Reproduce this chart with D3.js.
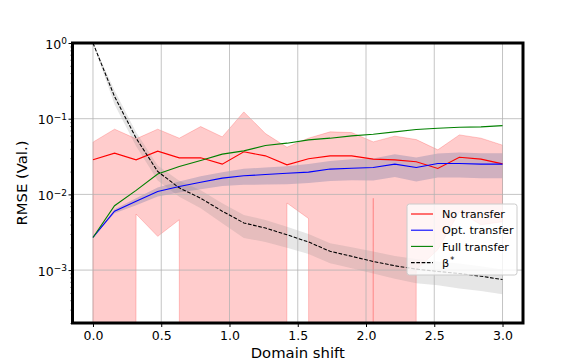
<!DOCTYPE html>
<html><head><meta charset="utf-8">
<script src="https://cdn.jsdelivr.net/npm/d3@7"></script>
<style>body{margin:0;background:#fff}svg{display:block;font-family:"DejaVu Sans",sans-serif}</style>
</head><body><svg id="c" width="581" height="363"></svg>
<script>
// ---- data ----
const shifts = [0, 0.158, 0.316, 0.474, 0.632, 0.789, 0.947, 1.105, 1.263, 1.421, 1.579, 1.737, 1.895, 2.053, 2.211, 2.368, 2.526, 2.684, 2.842, 3.0];
const noTransfer = [0.0286, 0.0351, 0.0286, 0.0373, 0.0304, 0.0304, 0.0251, 0.0365, 0.0323, 0.0246, 0.0295, 0.0323, 0.0323, 0.0292, 0.0286, 0.0270, 0.0220, 0.0310, 0.0292, 0.0253];
const noTransferHi = [0.049, 0.0727, 0.0542, 0.0727, 0.0553, 0.0787, 0.0575, 0.123, 0.0636, 0.042, 0.0553, 0.067, 0.0656, 0.0494, 0.0588, 0.053, 0.0388, 0.0611, 0.0553, 0.0447];
const noTransferLo = [0, 0, 0.0055, 0.00279, 0.00462, 0, 0, 0, 0, 0.0077, 0.0048, 0, 0, 0.0089, 0, 0.00101, 0.00186, 0.0059, 0.00397, 0.00435];
const optTransfer = [0.0027, 0.0060, 0.0081, 0.0109, 0.0127, 0.0145, 0.0164, 0.0176, 0.0183, 0.0190, 0.0197, 0.0216, 0.0222, 0.0227, 0.0251, 0.0227, 0.0256, 0.0256, 0.0251, 0.0251];
const optTransferHi = [0.0027, 0.00638, 0.00887, 0.01231, 0.01478, 0.0174, 0.01968, 0.02177, 0.02264, 0.0235, 0.02512, 0.02754, 0.02919, 0.02985, 0.03401, 0.03076, 0.03469, 0.03576, 0.03506, 0.03506];
const optTransferLo = [0.0027, 0.00565, 0.00717, 0.00936, 0.01058, 0.01172, 0.01286, 0.01338, 0.01351, 0.0136, 0.0141, 0.015, 0.01542, 0.0153, 0.01691, 0.01484, 0.01673, 0.01673, 0.0164, 0.0164];
const fullTransfer = [0.0027, 0.00708, 0.0113, 0.0186, 0.0233, 0.028, 0.034, 0.0376, 0.0442, 0.0475, 0.0525, 0.0553, 0.0593, 0.0624, 0.067, 0.0719, 0.0749, 0.077, 0.078, 0.081];
const betaStar = [1.0, 0.196, 0.0553, 0.0201, 0.0122, 0.0089, 0.0060, 0.0042, 0.00359, 0.00293, 0.00235, 0.00177, 0.00152, 0.0013, 0.00114, 0.00103, 0.00096, 0.0009, 0.00083, 0.00075];
const betaStarHi = [1.0, 0.235, 0.0664, 0.0241, 0.01509, 0.01135, 0.00765, 0.00536, 0.00458, 0.00374, 0.003, 0.00226, 0.002, 0.00176, 0.00154, 0.0014, 0.0013, 0.00122, 0.00112, 0.00102];
const betaStarLo = [1.0, 0.1537, 0.0434, 0.01529, 0.00928, 0.00657, 0.00417, 0.00266, 0.00235, 0.00197, 0.00163, 0.00123, 0.00106, 0.0009, 0.00077, 0.00067, 0.00063, 0.00057, 0.00053, 0.00048];
const xTicks = [0, 0.5, 1.0, 1.5, 2.0, 2.5, 3.0];
const yTicks = [1, 0.1, 0.01, 0.001];
const yTickExp = ["0", "\u22121", "\u22122", "\u22123"];
const legendLabels = ["No transfer", "Opt. transfer", "Full transfer", "\u03b2"];

// ---- layout ----
const L = 72.5, R = 523, T = 43, B = 323;
const svg = d3.select("#c");
const x = d3.scaleLinear().domain([-0.15, 3.15]).range([L, R]);
const y = d3.scaleLog().domain([2.0e-4, 1]).range([B, T]);
const yv = v => v > 0 ? y(v) : y(1e-300);

svg.append("defs").append("clipPath").attr("id", "clip")
  .append("rect").attr("x", L).attr("y", T).attr("width", R - L).attr("height", B - T);
const plot = svg.append("g").attr("clip-path", "url(#clip)");

const band = (lo, hi) => d3.area().x((d, i) => x(shifts[i])).y0((d, i) => yv(lo[i])).y1((d, i) => yv(hi[i]))(shifts);
plot.append("path").attr("d", band(noTransferLo, noTransferHi))
  .attr("fill", "red").attr("fill-opacity", 0.2).attr("stroke", "red").attr("stroke-opacity", 0.2).attr("stroke-width", 1);
plot.append("path").attr("d", band(optTransferLo, optTransferHi))
  .attr("fill", "#445a98").attr("fill-opacity", 0.25);
plot.append("path").attr("d", band(betaStarLo, betaStarHi))
  .attr("fill", "#808080").attr("fill-opacity", 0.2);

// grid
const grid = plot.append("g").attr("stroke", "#b0b0b0").attr("stroke-opacity", 0.75).attr("stroke-width", 1);
xTicks.forEach(t => grid.append("line").attr("x1", x(t)).attr("x2", x(t)).attr("y1", T).attr("y2", B));
yTicks.forEach(t => grid.append("line").attr("x1", L).attr("x2", R).attr("y1", y(t)).attr("y2", y(t)));

const line = d => d3.line().x((v, i) => x(shifts[i])).y(v => y(v))(d);
plot.append("path").attr("d", line(noTransfer)).attr("fill", "none").attr("stroke", "red").attr("stroke-width", 1.1);
plot.append("path").attr("d", line(optTransfer)).attr("fill", "none").attr("stroke", "blue").attr("stroke-width", 1.1);
plot.append("path").attr("d", line(fullTransfer)).attr("fill", "none").attr("stroke", "green").attr("stroke-width", 1.1);
plot.append("path").attr("d", line(betaStar)).attr("fill", "none").attr("stroke", "black").attr("stroke-width", 1.1).attr("stroke-dasharray", "3.7,1.6");

// axes
const xAxis = d3.axisBottom(x).tickValues(xTicks).tickFormat(d3.format(".1f")).tickSize(4).tickPadding(4);
const gx = svg.append("g").attr("transform", `translate(0,${B})`).call(xAxis);
gx.select(".domain").remove();
gx.selectAll("text").attr("font-size", 12.5).attr("font-family", "DejaVu Sans").attr("fill", "#000");
gx.selectAll("line").attr("stroke", "#000");

const minorTicks = [];
[0.0001, 0.001, 0.01, 0.1].forEach(d => { for (let k = 2; k <= 9; k++) { const v = d * k; if (v >= 2e-4 && v <= 1) minorTicks.push(v); } });
const yAxis = d3.axisLeft(y).tickValues(yTicks).tickFormat("").tickSize(4);
const gy = svg.append("g").attr("transform", `translate(${L},0)`).call(yAxis);
gy.select(".domain").remove();
gy.selectAll("line").attr("stroke", "#000");
const gym = svg.append("g").attr("transform", `translate(${L},0)`).call(d3.axisLeft(y).tickValues(minorTicks).tickFormat("").tickSize(2));
gym.select(".domain").remove();
gym.selectAll("line").attr("stroke", "#000").attr("stroke-width", 0.7);

yTicks.forEach((t, i) => {
  const tx = svg.append("text").attr("x", 67).attr("y", y(t)).attr("dy", "0.45em")
    .attr("text-anchor", "end").attr("font-size", 12.5).attr("fill", "#000");
  tx.append("tspan").text("10");
  tx.append("tspan").attr("dy", "-0.5em").attr("font-size", 9).text(yTickExp[i]);
});

// spines
svg.append("rect").attr("x", L).attr("y", T).attr("width", R - L).attr("height", B - T)
  .attr("fill", "none").attr("stroke", "#000").attr("stroke-width", 3);

// labels
svg.append("text").attr("x", (L + R) / 2).attr("y", 358).attr("text-anchor", "middle")
  .attr("font-size", 14.8).attr("fill", "#000").text("Domain shift");
svg.append("text").attr("transform", `translate(27,${(T + B) / 2}) rotate(-90)`).attr("text-anchor", "middle")
  .attr("font-size", 14.8).attr("fill", "#000").text("RMSE (Val.)");

// legend
const lg = svg.append("g");
lg.append("rect").attr("x", 407).attr("y", 204).attr("width", 110).attr("height", 71).attr("rx", 2.5)
  .attr("fill", "#fff").attr("fill-opacity", 0.8).attr("stroke", "#cccccc").attr("stroke-width", 1);
const lcol = ["red", "blue", "green", "black"];
legendLabels.forEach((lab, i) => {
  const yy = 214 + i * 16.2;
  lg.append("line").attr("x1", 411).attr("x2", 433).attr("y1", yy).attr("y2", yy)
    .attr("stroke", lcol[i]).attr("stroke-width", 1.1).attr("stroke-dasharray", i === 3 ? "3.7,1.6" : null);
  const t = lg.append("text").attr("x", 442).attr("y", yy).attr("dy", "0.38em").attr("font-size", 11.2).attr("fill", "#000");
  t.append("tspan").text(lab);
  if (i === 3) t.append("tspan").attr("dy", "-0.45em").attr("dx", "1").attr("font-size", 8).text("*");
});
</script></body></html>
